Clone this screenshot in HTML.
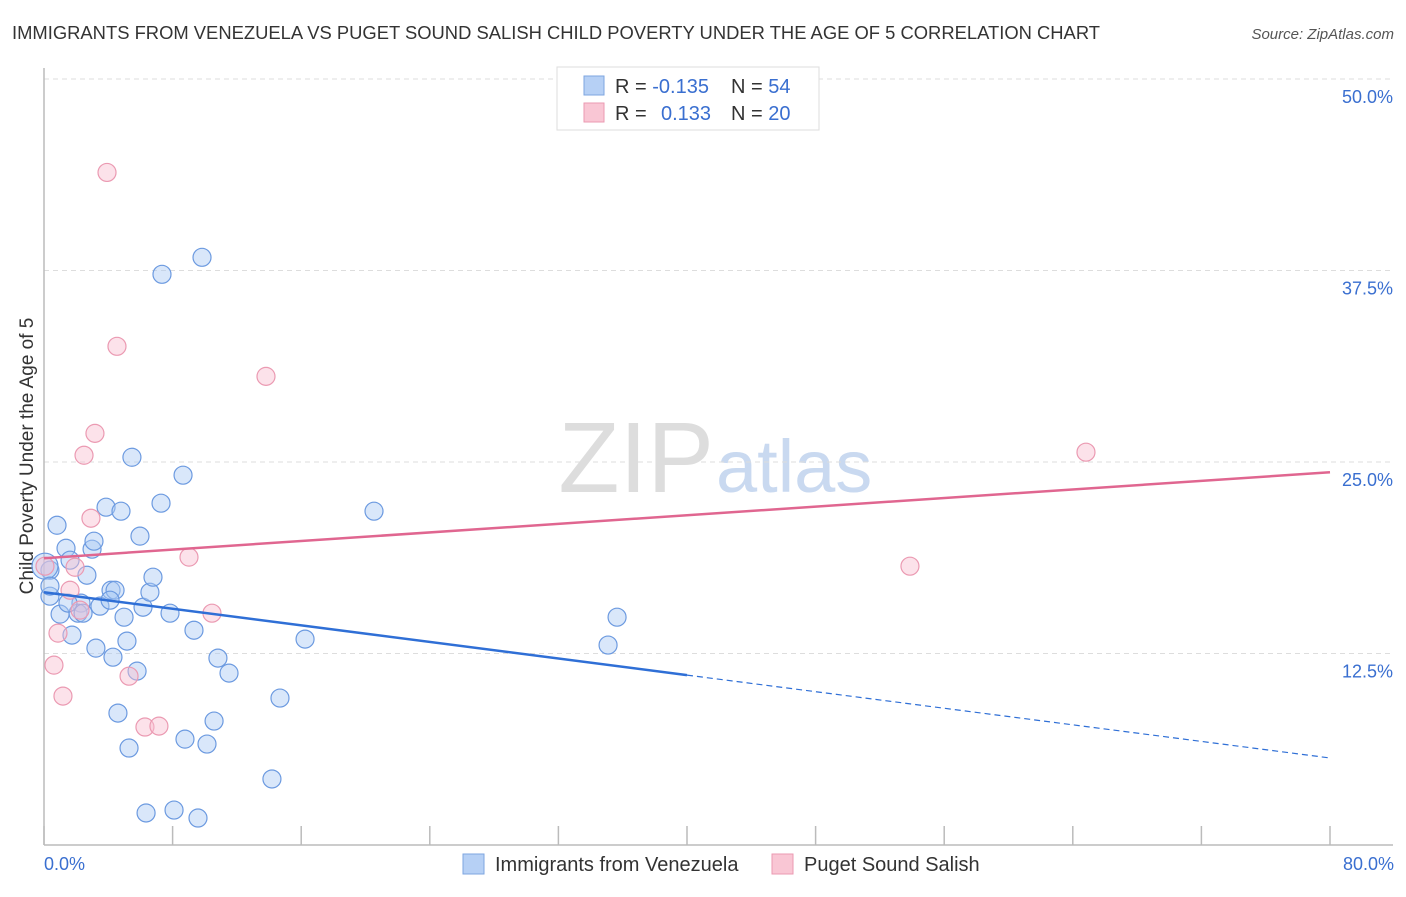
<!DOCTYPE html>
<html><head><meta charset="utf-8"><style>
body{margin:0;background:#fff;font-family:"Liberation Sans",sans-serif;}
svg text{font-family:"Liberation Sans",sans-serif;}
</style></head><body>
<svg id="chart" width="1406" height="892">
<text x="12" y="39" font-size="18" fill="#333" textLength="1088" lengthAdjust="spacingAndGlyphs">IMMIGRANTS FROM VENEZUELA VS PUGET SOUND SALISH CHILD POVERTY UNDER THE AGE OF 5 CORRELATION CHART</text>
<text x="1394" y="39" font-size="15" fill="#555" font-style="italic" text-anchor="end">Source: ZipAtlas.com</text>
<text x="714" y="492" font-size="100" fill="#ddd" text-anchor="end" font-family="Liberation Serif">ZIP</text>
<text x="716" y="492" font-size="74" fill="#c9d9f0">atlas</text>
<g id="grid"></g>
<line x1="44" y1="68" x2="44" y2="845" stroke="#bbb" stroke-width="1.5"/>
<line x1="44" y1="845" x2="1393" y2="845" stroke="#bbb" stroke-width="1.5"/>
<g id="ticks"></g>
<text transform="translate(33,456) rotate(-90)" font-size="19" fill="#333" text-anchor="middle">Child Poverty Under the Age of 5</text>
<text x="44" y="870" font-size="18" fill="#3a6fd0">0.0%</text>
<text x="1394" y="870" font-size="18" fill="#3a6fd0" text-anchor="end">80.0%</text>
<g id="points"></g>
<g id="lines"></g>
<g>
<rect x="557" y="67" width="262" height="63" fill="#fff" stroke="#ddd"/>
<rect x="584" y="76" width="20" height="19" fill="#b6d0f5" stroke="#7ea6e0"/>
<rect x="584" y="103" width="20" height="19" fill="#f9c6d4" stroke="#eb9ab2"/>
<text x="615" y="93" font-size="20" fill="#333">R = <tspan fill="#3a6fd0">-0.135</tspan><tspan x="731">N = </tspan><tspan fill="#3a6fd0">54</tspan></text>
<text x="615" y="120" font-size="20" fill="#333">R = <tspan x="661" fill="#3a6fd0">0.133</tspan><tspan x="731">N = </tspan><tspan fill="#3a6fd0">20</tspan></text>
</g>
<g>
<rect x="463" y="854" width="21" height="20" fill="#b6d0f5" stroke="#7ea6e0"/>
<text x="495" y="871" font-size="20" fill="#333">Immigrants from Venezuela</text>
</g>
<g>
<rect x="772" y="854" width="21" height="20" fill="#f9c6d4" stroke="#eb9ab2"/>
<text x="804" y="871" font-size="20" fill="#333">Puget Sound Salish</text>
</g>
</svg>
<script>
const yTicks=[12.5,25,37.5,50];
const yTickLabels=["12.5%","25.0%","37.5%","50.0%"];
const xTicks=[0,8,16,24,32,40,48,56,64,72,80];
const blueX=[0.81,1.37,1.62,0.37,2.67,0.37,1.00,2.99,3.11,3.86,4.79,5.97,7.28,5.47,8.65,7.34,9.83,20.53,4.17,4.42,3.48,2.30,2.12,2.43,1.74,3.23,4.29,4.98,6.16,6.59,6.78,7.84,5.16,9.33,10.82,11.51,5.79,16.24,14.68,4.60,5.29,8.77,10.14,10.58,14.18,6.35,8.09,9.58,35.65,35.09,0.06,0.37,1.49,4.11];
const blueY=[20.87,19.37,18.59,17.94,17.61,16.24,15.07,19.31,19.83,22.05,21.79,20.16,22.31,25.31,24.14,37.25,38.36,21.79,16.63,16.63,15.59,15.79,15.13,15.13,13.70,12.85,12.26,14.87,15.52,16.50,17.48,15.13,13.31,14.02,12.20,11.22,11.35,13.44,9.59,8.61,6.33,6.91,6.59,8.09,4.31,2.09,2.28,1.76,14.87,13.05,18.20,16.90,15.79,15.98];
const pinkX=[3.92,4.54,13.81,3.17,2.49,2.92,1.93,1.62,9.02,10.45,0.87,0.62,1.18,5.29,6.28,7.15,64.82,53.87,0.06,2.24];
const pinkY=[43.9,32.55,30.59,26.87,25.44,21.33,18.13,16.63,18.79,15.13,13.83,11.74,9.72,11.02,7.70,7.76,25.64,18.20,18.20,15.33];
const blueLine=[16.5,5.68];
const pinkLine=[18.72,24.33];
const blueSolidEnd=40;
const NS="http://www.w3.org/2000/svg";
const sx=v=>44+v/80*1286;
const sy=v=>845-v/50*766;
function mk(t,a,p){const e=document.createElementNS(NS,t);for(const k in a)e.setAttribute(k,a[k]);p.appendChild(e);return e;}
const grid=document.getElementById('grid');
yTicks.forEach((t,i)=>{
 const l=mk('line',{x1:44,x2:1393,y1:sy(t),y2:sy(t),stroke:'#ddd','stroke-dasharray':'5,4'},grid);
 
 
 const tx=mk('text',{x:1393,y:sy(t)+24,'font-size':18,fill:'#3a6fd0','text-anchor':'end'},grid);
 tx.textContent=yTickLabels[i];
 
 
});
const ticks=document.getElementById('ticks');
xTicks.forEach(t=>{
 const l=mk('line',{x1:sx(t),x2:sx(t),y1:826,y2:845,stroke:'#bbb','stroke-width':1.5},ticks);
 
 
});
const pts=document.getElementById('points');
blueX.forEach((x,i)=>{
 const big=i===50;
 const c=mk('circle',{cx:sx(x),cy:sy(blueY[i]),r:big?13:9,fill:'rgba(170,202,245,0.45)',stroke:'#6c9ae0','stroke-width':1.2},pts);
 
 
});
pinkX.forEach((x,i)=>{
 const c=mk('circle',{cx:sx(x),cy:sy(pinkY[i]),r:9,fill:'rgba(248,190,208,0.45)',stroke:'#eb9ab2','stroke-width':1.2},pts);
 
 
});
const lines=document.getElementById('lines');
const by=x=>blueLine[0]+(blueLine[1]-blueLine[0])*x/80;
let l1=mk('line',{x1:sx(0),y1:sy(by(0)),x2:sx(blueSolidEnd),y2:sy(by(blueSolidEnd)),stroke:'#2f6fd6','stroke-width':2.5},lines);


let l2=mk('line',{x1:sx(blueSolidEnd),y1:sy(by(blueSolidEnd)),x2:sx(80),y2:sy(by(80)),stroke:'#2f6fd6','stroke-width':1.2,'stroke-dasharray':'6,4'},lines);


let l3=mk('line',{x1:sx(0),y1:sy(pinkLine[0]),x2:sx(80),y2:sy(pinkLine[1]),stroke:'#e06690','stroke-width':2.5},lines);


</script>
</body></html>
